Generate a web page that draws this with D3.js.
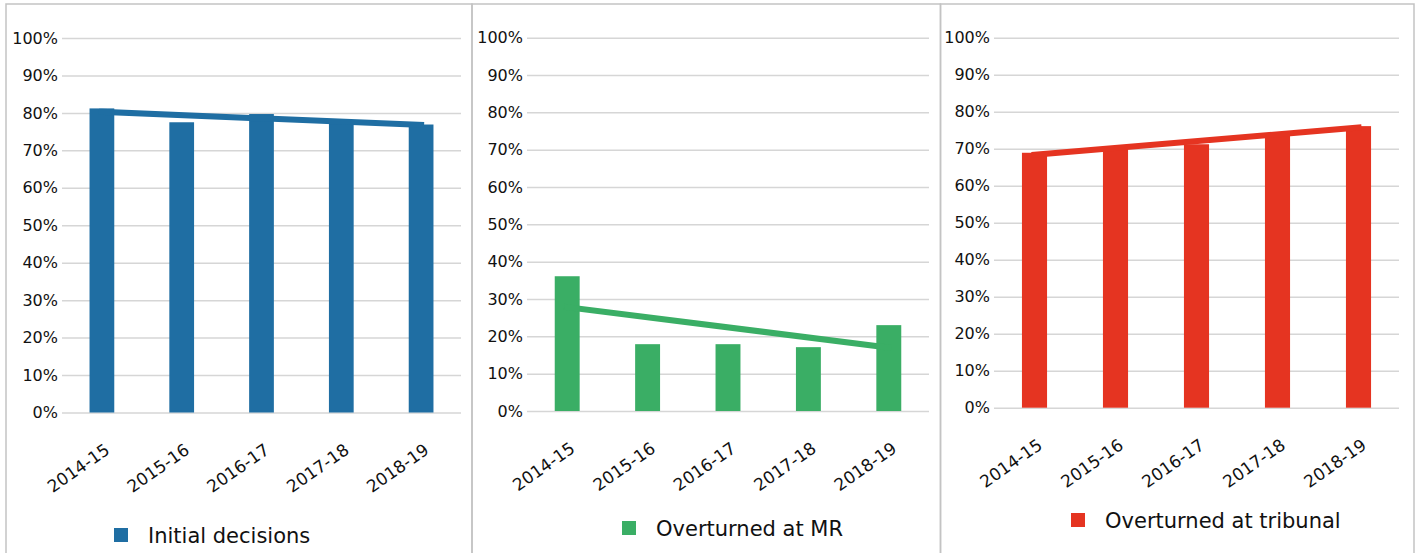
<!DOCTYPE html>
<html>
<head>
<meta charset="utf-8">
<script src="https://cdn.jsdelivr.net/npm/d3@7"></script>
<style>
  body { margin: 0; background: #fff; }
  svg { display: block; font-family: "DejaVu Sans", sans-serif; }
</style>
</head>
<body>
<svg id="chart" width="1417" height="553"></svg>
<script>
// data
var years = ['2014-15', '2015-16', '2016-17', '2017-18', '2018-19']
var initialDecisions = [81.2, 77.5, 79.7, 77.4, 76.9]
var overturnedMR = [36.1, 17.9, 17.9, 17.1, 23.0]
var overturnedTribunal = [68.9, 70.0, 71.2, 74.0, 76.1]
var yTicks = [0, 10, 20, 30, 40, 50, 60, 70, 80, 90, 100]
var legendLabels = ['Initial decisions', 'Overturned at MR', 'Overturned at tribunal']
var colors = ['#1f6ea3', '#3aae65', '#e53421']

// layout of the three panels
var panels = [
  { values: initialDecisions, box: [6, 472], grid: [62, 461], y0: 412.5, y100: 38, legX: 114, legY: 543 },
  { values: overturnedMR, box: [472, 940.5], grid: [527, 929], y0: 411, y100: 37.7, legX: 622, legY: 536 },
  { values: overturnedTribunal, box: [940.5, 1414], grid: [994, 1399], y0: 407.7, y100: 37.7, legX: 1071, legY: 528 }
]

var svg = d3.select('#chart')

// least squares trend over category index
function trend(vals) {
  var n = vals.length
  var mx = (n - 1) / 2
  var my = d3.mean(vals)
  var num = d3.sum(vals, (v, i) => (i - mx) * (v - my))
  var den = d3.sum(vals, (v, i) => (i - mx) * (i - mx))
  var b = num / den
  return vals.map((v, i) => my + b * (i - mx))
}

panels.forEach(function(p, k) {
  var g = svg.append('g')

  // panel frame (bottom runs off the picture)
  g.append('path')
    .attr('d', 'M' + p.box[0] + ',600V4H' + p.box[1] + 'V600')
    .attr('fill', 'none')
    .attr('stroke', '#c3c3c3')
    .attr('stroke-width', 1.5)

  var x = d3.scaleBand()
    .domain(years)
    .range(p.grid)
    .paddingInner(0.69)
    .paddingOuter(0.345)

  var y = d3.scaleLinear()
    .domain([0, 100])
    .range([p.y0, p.y100])

  // gridlines + y labels
  var yAxis = d3.axisLeft(y)
    .tickValues(yTicks)
    .tickSize(-(p.grid[1] - p.grid[0]))
    .tickPadding(4)
    .tickFormat(d => d + '%')

  var ya = g.append('g')
    .attr('transform', 'translate(' + p.grid[0] + ',0)')
    .call(yAxis)
  ya.select('.domain').remove()
  ya.selectAll('.tick line')
    .attr('stroke', '#d6d6d6')
    .attr('stroke-width', 1.5)
  ya.selectAll('.tick text')
    .attr('fill', '#111')
    .style('font-size', '16px')
    .style('font-family', '"DejaVu Sans", sans-serif')

  // bars
  g.selectAll('rect.bar')
    .data(p.values)
    .enter()
    .append('rect')
      .attr('class', 'bar')
      .attr('x', (d, i) => x(years[i]))
      .attr('width', x.bandwidth())
      .attr('y', d => y(d))
      .attr('height', d => y(0) - y(d))
      .attr('fill', colors[k])

  // linear trendline, first to last category
  var tv = trend(p.values)
  var ends = [0, tv.length - 1]
  var line = d3.line()
    .x(i => x(years[i]) + x.bandwidth() / 2)
    .y(i => y(tv[i]))
  g.append('path')
    .datum(ends)
    .attr('d', line)
    .attr('fill', 'none')
    .attr('stroke', colors[k])
    .attr('stroke-width', 6)
    .attr('stroke-linecap', 'square')

  // x labels, rotated
  g.selectAll('text.xl')
    .data(years)
    .enter()
    .append('text')
      .attr('class', 'xl')
      .attr('text-anchor', 'end')
      .attr('transform', d => 'translate(' + (x(d) + x.bandwidth() / 2 + 9) + ',' + (p.y0 + 40) + ') rotate(-35)')
      .attr('fill', '#111')
      .style('font-size', '17px')
      .text(d => d)

  // legend
  g.append('rect')
    .attr('x', p.legX)
    .attr('y', p.legY - 15)
    .attr('width', 14)
    .attr('height', 14)
    .attr('fill', colors[k])
  g.append('text')
    .attr('x', p.legX + 34)
    .attr('y', p.legY)
    .attr('fill', '#111')
    .style('font-size', '21px')
    .text(legendLabels[k])
})
</script>
</body>
</html>
